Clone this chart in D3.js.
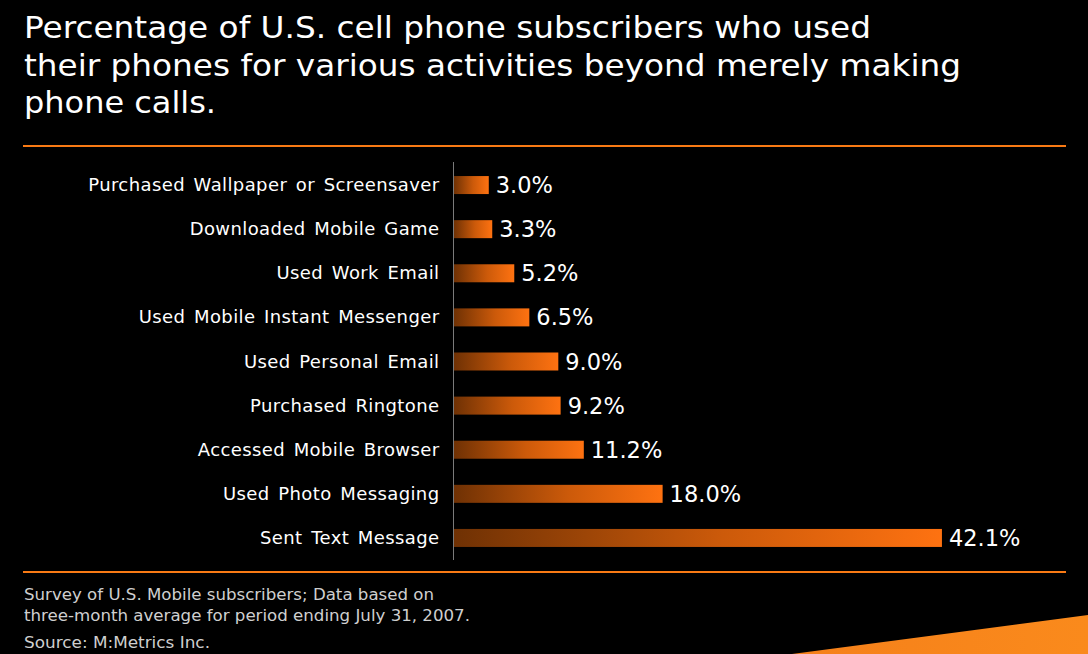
<!DOCTYPE html>
<html><head><meta charset="utf-8">
<script src="https://cdn.jsdelivr.net/npm/d3@7"></script>
<style>html,body{margin:0;padding:0;background:#000;overflow:hidden}svg{display:block}</style>
</head><body>
<script>
const titleLines = ["Percentage of U.S. cell phone subscribers who used","their phones for various activities beyond merely making","phone calls."];
const categories = ["Purchased Wallpaper or Screensaver","Downloaded Mobile Game","Used Work Email","Used Mobile Instant Messenger","Used Personal Email","Purchased Ringtone","Accessed Mobile Browser","Used Photo Messaging","Sent Text Message"];
const values = [3.0, 3.3, 5.2, 6.5, 9.0, 9.2, 11.2, 18.0, 42.1];
const footnotes = ["Survey of U.S. Mobile subscribers; Data based on","three-month average for period ending July 31, 2007."];
const sourceText = "Source: M:Metrics Inc.";

const W = 1088, H = 654;
const svg = d3.select("body").append("svg").attr("width", W).attr("height", H);
svg.append("rect").attr("width", W).attr("height", H).attr("fill", "#000");

const defs = svg.append("defs");
const g1 = defs.append("linearGradient").attr("id","barGrad").attr("x1","0").attr("x2","1").attr("y1","0").attr("y2","0");
g1.append("stop").attr("offset","0").attr("stop-color","#6f3104");
g1.append("stop").attr("offset","0.55").attr("stop-color","#cc5a0a");
g1.append("stop").attr("offset","1").attr("stop-color","#fe7211");
const g2 = defs.append("linearGradient").attr("id","swGrad").attr("x1","0").attr("x2","1").attr("y1","0").attr("y2","0");
g2.append("stop").attr("offset","0").attr("stop-color","#f5801a");
g2.append("stop").attr("offset","1").attr("stop-color","#fa8a1c");

// swoosh
svg.append("path").attr("d","M792,654 Q930,636 1088,615 L1088,654 Z").attr("fill","url(#swGrad)");

// title
const FONT = "'DejaVu Sans', Verdana, sans-serif";
const titleWidths = [847, 937, 192];
svg.append("g").selectAll("text").data(titleLines).join("text")
  .attr("x", 24).attr("y", (d,i) => 38.3 + i*37.4)
  .attr("fill", "#fff").attr("font-family", FONT).attr("font-size", 30.5)
  .attr("textLength", (d,i) => titleWidths[i]).attr("lengthAdjust", "spacingAndGlyphs")
  .text(d => d);

// rules
svg.append("rect").attr("x", 23).attr("y", 145).attr("width", 1043).attr("height", 2).attr("fill", "#f97a14");
svg.append("rect").attr("x", 23).attr("y", 571).attr("width", 1043).attr("height", 2).attr("fill", "#f97a14");

const x = d3.scaleLinear().domain([0, 50]).range([454, 1033.5]);
const y = d3.scaleBand().domain(categories).range([163, 560]).paddingInner(0.592).paddingOuter(0.296);

// bars
svg.append("g").selectAll("rect").data(categories).join("rect")
  .attr("x", x(0)).attr("y", d => y(d))
  .attr("width", (d,i) => x(values[i]) - x(0))
  .attr("height", y.bandwidth())
  .attr("fill", "url(#barGrad)");

// axis line
svg.append("line").attr("x1", 453.5).attr("x2", 453.5).attr("y1", 162).attr("y2", 560)
  .attr("stroke", "#7a7a7a").attr("stroke-width", 1);

// category labels
svg.append("g").selectAll("text").data(categories).join("text")
  .attr("x", 439.5).attr("y", d => y(d) + y.bandwidth()/2 + 6)
  .attr("text-anchor", "end").attr("fill", "#fff")
  .attr("font-family", FONT).attr("font-size", 18)
  .attr("letter-spacing", 0.4).attr("word-spacing", 2.5)
  .text(d => d);

// value labels
svg.append("g").selectAll("text").data(categories).join("text")
  .attr("x", (d,i) => x(values[i]) + 7).attr("y", d => y(d) + y.bandwidth()/2 + 8)
  .attr("fill", "#fff").attr("font-family", FONT).attr("font-size", 22.5)
  .text((d,i) => values[i].toFixed(1) + "%");

// footer
svg.append("g").selectAll("text").data(footnotes).join("text")
  .attr("x", 24).attr("y", (d,i) => 600 + i*20.5)
  .attr("fill", "#cfcfcf").attr("font-family", FONT).attr("font-size", 15)
  .attr("textLength", (d,i) => [410, 446][i]).attr("lengthAdjust", "spacingAndGlyphs")
  .text(d => d);
svg.append("text").attr("x", 24).attr("y", 648)
  .attr("fill", "#cfcfcf").attr("font-family", FONT).attr("font-size", 15)
  .attr("textLength", 186).attr("lengthAdjust", "spacingAndGlyphs")
  .text(sourceText);
</script>
</body></html>
